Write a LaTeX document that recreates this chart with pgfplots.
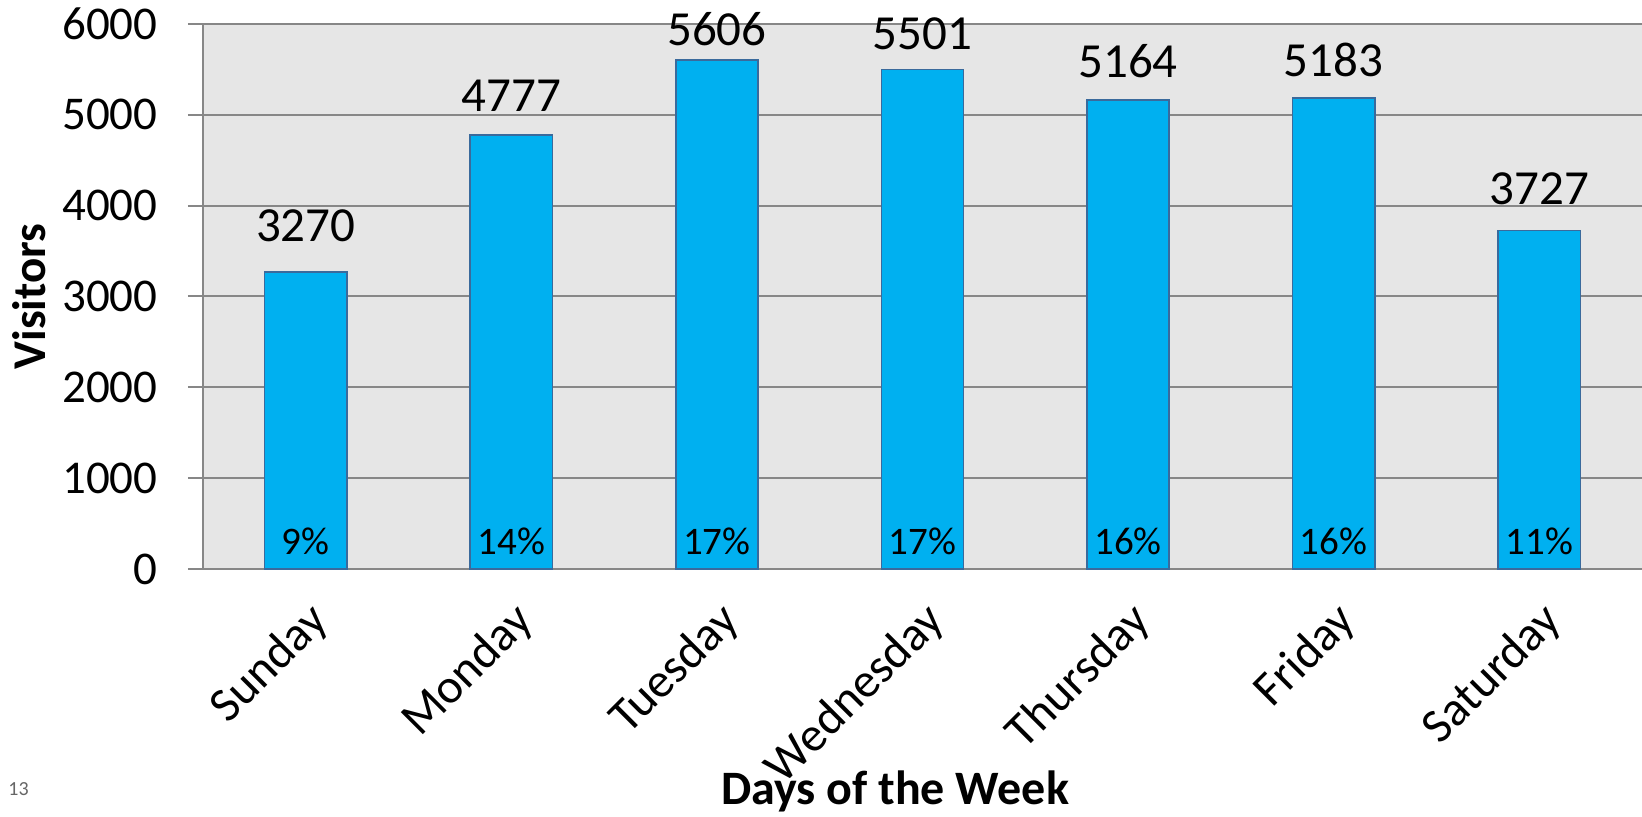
\documentclass[border=0pt]{standalone}
\usepackage{pgfplots}
\usepackage{pgfplotstable}
\pgfplotsset{compat=1.18}
\usepackage{fontspec}
\setmainfont{Carlito}

\definecolor{barblue}{HTML}{00B0F0}
\definecolor{baredge}{HTML}{3A6A9C}
\definecolor{plotbg}{HTML}{E6E6E6}
\definecolor{gridgray}{HTML}{878787}

% day index, visitors, distance of the count label above the bar (pt)
\pgfplotstableread{
x y    gap
0 3270 14.5
1 4777 11.5
2 5606 6.5
3 5501 9.5
4 5164 10.5
5 5183 10.5
6 3727 12.5
}\visitors

\begin{document}
\begin{tikzpicture}
\begin{axis}[
  name=main,
  at={(0,0)}, anchor=south west,
  scale only axis,
  width=719.5pt, height=272.5pt,
  xmin=-0.5, xmax=6.5,
  ymin=0, ymax=6000,
  axis lines=left,
  axis line style={-, draw=gridgray, line width=1pt},
  axis background/.style={fill=plotbg},
  ymajorgrids,
  grid style={draw=gridgray, line width=1pt},
  ytick={0,1000,...,6000},
  ytick align=outside,
  ytick style={draw=gridgray, line width=1pt},
  major tick length=7.5pt,
  xtick={0,...,6},
  xtick style={draw=none},
  xticklabels={Sunday,Monday,Tuesday,Wednesday,Thursday,Friday,Saturday},
  /pgf/number format/assume math mode=true,
  /pgf/number format/1000 sep={},
  yticklabel style={anchor=east, inner sep=0pt, xshift=-15pt,
    font=\fontsize{23.5}{26}\selectfont},
  xticklabel style={yshift=-11pt, rotate=45, anchor=north east, inner sep=0pt,
    font=\fontsize{24.3}{27}\selectfont},
  xlabel={Days of the Week},
  xlabel style={at={(axis description cs:0.481,-0.433)}, anchor=base,
    font=\bfseries\fontsize{24}{26}\selectfont},
  ylabel={Visitors},
  ylabel style={at={(axis description cs:-0.121,0.5)}, anchor=center,
    font=\bfseries\fontsize{23.5}{26}\selectfont},
  clip=false,
]
% visitors per day, labelled with the count above each bar
\addplot[ybar, bar width=0.4, fill=barblue, draw=baredge, line width=0.8pt,
  nodes near coords,
  visualization depends on={\thisrow{gap} \as \labelgap},
  every node near coord/.append style={anchor=south, inner sep=0pt,
    yshift=\labelgap pt,
    font=\fontsize{24.5}{27}\selectfont, text=black}]
  table[x=x, y=y] {\visitors};
% share of the week's visitors, written near the foot of each bar
\addplot[draw=none, mark=none,
  nodes near coords, point meta=explicit symbolic,
  every node near coord/.append style={anchor=center, inner sep=0pt,
    font=\fontsize{19.5}{22}\selectfont, text=black}]
  coordinates {(0,300)[9\%] (1,300)[14\%] (2,300)[17\%] (3,300)[17\%]
               (4,300)[16\%] (5,300)[16\%] (6,300)[11\%]};
\node[anchor=base west, inner sep=0pt, text=black!60, font=\fontsize{10}{12}\selectfont]
  at (axis description cs:-0.1355,-0.4165) {13};
\end{axis}
\pgfresetboundingbox
\path[use as bounding box] (-101.5pt,-124pt) rectangle (719.5pt,284.5pt);
\end{tikzpicture}
\end{document}
